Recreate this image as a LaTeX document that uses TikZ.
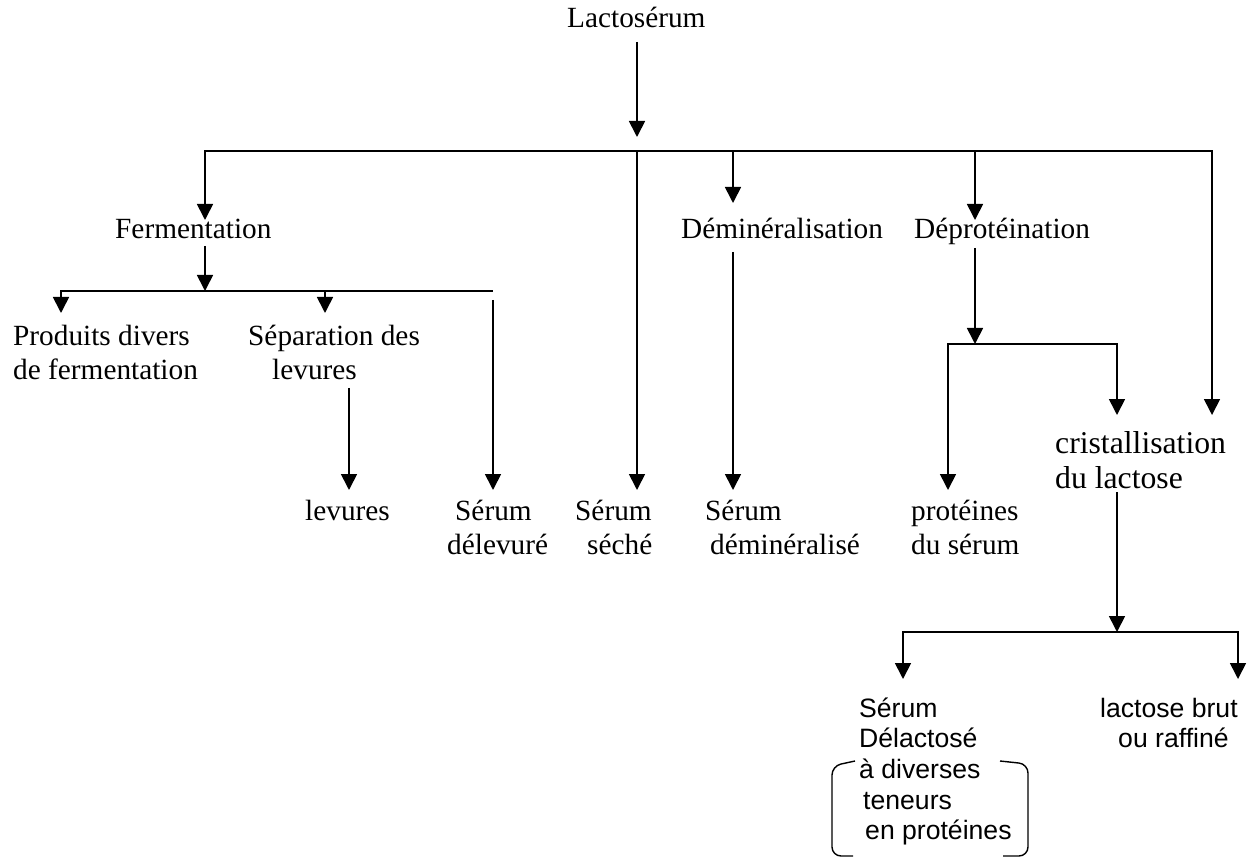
\documentclass[tikz,border=0pt]{standalone}
\usepackage{fontspec}
\setmainfont{Liberation Serif}
\newfontfamily\sansA{Liberation Sans}
\usetikzlibrary{arrows.meta}
\begin{document}
\begin{tikzpicture}[x=1pt,y=-1pt,
  flow/.style={line width=1.7pt},
  tipA/.tip={Triangle[length=16pt,width=16pt]},
  arr/.style={flow,-tipA},
  arrboth/.style={flow,tipA-tipA},
  lbl/.style={anchor=base west,inner sep=0pt,font=\fontsize{29.3}{34}\selectfont},
  biglbl/.style={anchor=base west,inner sep=0pt,font=\fontsize{31.7}{36}\selectfont},
  sanslbl/.style={anchor=base west,inner sep=0pt,font=\sansA\fontsize{26.6}{31}\selectfont},
  brace/.style={line width=1.4pt,rounded corners=9pt}]
\useasboundingbox (0,0) rectangle (1250,858);

% ---- labels ----
\node[lbl] (lacto) at (567,28) {Lactosérum};
\node[lbl] (ferm) at (115,239) {Fermentation};
\node[lbl] (demin) at (681,239) {Déminéralisation};
\node[lbl] (deprot) at (914,239) {Déprotéination};
\node[lbl] (prodA) at (13,346) {Produits divers};
\node[lbl] (prodB) at (13,380) {de fermentation};
\node[lbl] (sepA) at (248,346) {Séparation des};
\node[lbl] (sepB) at (272,380) {levures};
\node[lbl] (lev) at (305,520) {levures};
\node[lbl] (delevA) at (455,520) {Sérum};
\node[lbl] (delevB) at (447,554) {délevuré};
\node[lbl] (secheA) at (575,520) {Sérum};
\node[lbl] (secheB) at (587,554) {séché};
\node[lbl] (deminSA) at (705,520) {Sérum};
\node[lbl] (deminSB) at (710,554) {déminéralisé};
\node[lbl] (protA) at (911,520) {protéines};
\node[lbl] (protB) at (911,554) {du sérum};
\node[biglbl] (cristA) at (1055,453) {cristallisation};
\node[biglbl] (cristB) at (1055,488) {du lactose};
\node[sanslbl] (dlA) at (859,717) {Sérum};
\node[sanslbl] (dlB) at (859,747) {Délactosé};
\node[sanslbl] (dlC) at (859,778) {à diverses};
\node[sanslbl] (dlD) at (863,809) {teneurs};
\node[sanslbl] (dlE) at (865,839) {en protéines};
\node[sanslbl] (lbA) at (1100,717) {lactose brut};
\node[sanslbl] (lbB) at (1118,747) {ou raffiné};

% ---- connection points ----
\coordinate (lactoOut) at (637,42);
\coordinate (lactoIn) at (637,137);
\coordinate (m0) at (205,151);
\coordinate (m1) at (637,151);
\coordinate (m2) at (733,151);
\coordinate (m3) at (975,151);
\coordinate (m4) at (1212,151);
\coordinate (fermIn) at (205,220);
\coordinate (fermOut) at (205,246);
\coordinate (f0) at (61,291);
\coordinate (f1) at (205,291);
\coordinate (f2) at (325,291);
\coordinate (f3) at (493,291);
\coordinate (prodIn) at (61,313);
\coordinate (sepIn) at (325,313);
\coordinate (sepOut) at (349,388);
\coordinate (levIn) at (349,490);
\coordinate (delevOut) at (493,300);
\coordinate (delevIn) at (493,490);
\coordinate (secheIn) at (637,490);
\coordinate (deminIn) at (733,203);
\coordinate (deminOut) at (733,252);
\coordinate (deminSIn) at (733,490);
\coordinate (deprotIn) at (975,220);
\coordinate (deprotOut) at (975,248);
\coordinate (d0) at (948,344);
\coordinate (d1) at (975,344);
\coordinate (d2) at (1117,344);
\coordinate (protIn) at (948,490);
\coordinate (cristIn) at (1117,415);
\coordinate (rightIn) at (1212,415);
\coordinate (cristOut) at (1117,492);
\coordinate (c0) at (903,632);
\coordinate (c1) at (1117,632);
\coordinate (c2) at (1238,632);
\coordinate (dlIn) at (903,679);
\coordinate (lbIn) at (1238,679);

% ---- connectors ----
\draw[arr] (lactoOut) -- (lactoIn);
\draw[arrboth] (fermIn) -- (m0) -- (m4) -- (rightIn);
\draw[arr] (m1) -- (secheIn);
\draw[arr] (m2) -- (deminIn);
\draw[arr] (m3) -- (deprotIn);
\draw[arr] (fermOut) -- (f1);
\draw[flow,tipA-] (prodIn) -- (f0) -- (f3);
\draw[arr] (f2) -- (sepIn);
\draw[arr] (sepOut) -- (levIn);
\draw[arr] (delevOut) -- (delevIn);
\draw[arr] (deminOut) -- (deminSIn);
\draw[arr] (deprotOut) -- (d1);
\draw[arrboth] (protIn) -- (d0) -- (d2) -- (cristIn);
\draw[arr] (cristOut) -- (c1);
\draw[arrboth] (dlIn) -- (c0) -- (c2) -- (lbIn);

% ---- bracket around the protein content note ----
\draw[brace] (855,761) -- (832,766) -- (832,856) -- (853,856);
\draw[brace] (1000,761) -- (1028,764) -- (1028,856) -- (1003,856);
\end{tikzpicture}
\end{document}
